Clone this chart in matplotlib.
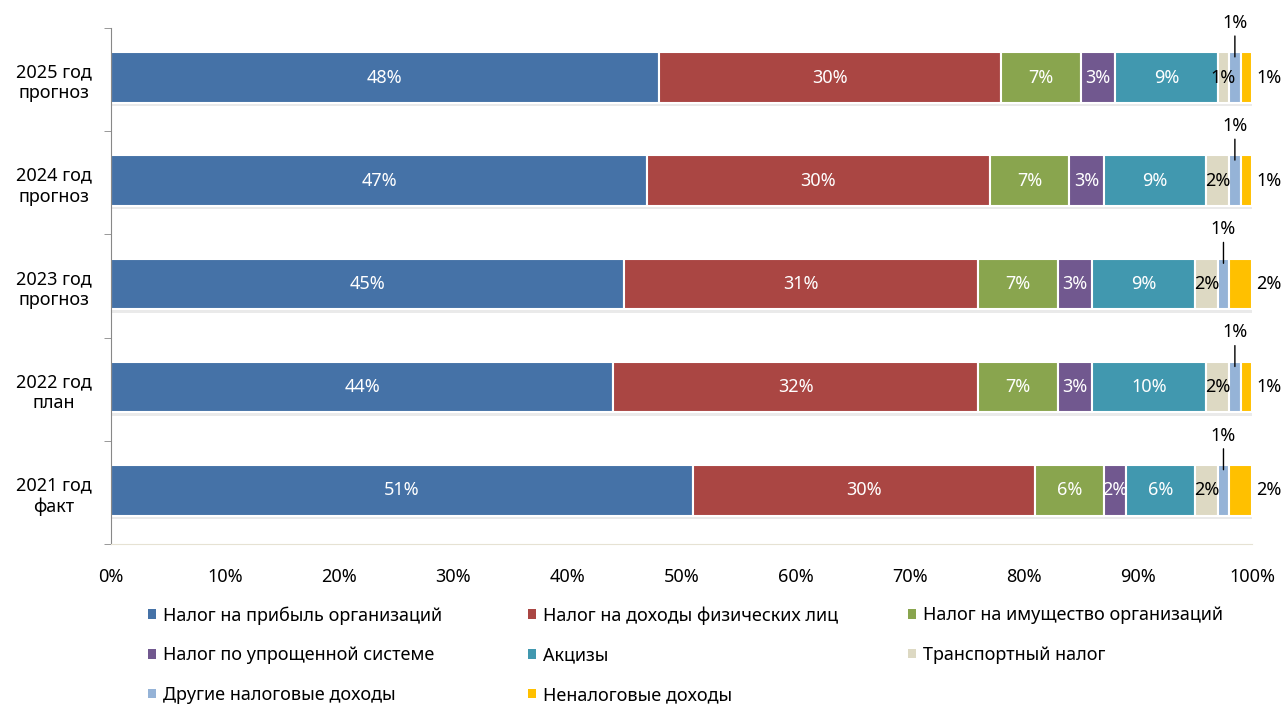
import matplotlib.pyplot as plt
import matplotlib.patheffects as pe
from matplotlib.patches import Patch
import numpy as np

plt.rcParams['font.family'] = ['Noto Sans', 'DejaVu Sans']

# категории снизу вверх
years = ['2021 год\nфакт', '2022 год\nплан', '2023 год\nпрогноз',
         '2024 год\nпрогноз', '2025 год\nпрогноз']

series_names = ['Налог на прибыль организаций', 'Налог на доходы физических лиц',
                'Налог на имущество организаций', 'Налог по упрощенной системе',
                'Акцизы', 'Транспортный налог', 'Другие налоговые доходы',
                'Неналоговые доходы']

profit = [51, 44, 45, 47, 48]
ndfl = [30, 32, 31, 30, 30]
property_tax = [6, 7, 7, 7, 7]
simplified = [2, 3, 3, 3, 3]
excise = [6, 10, 9, 9, 9]
transport = [2, 2, 2, 2, 1]
other_tax = [1, 1, 1, 1, 1]
non_tax = [2, 1, 2, 1, 1]

colors = ['#4572A7', '#AA4643', '#89A54E', '#71588F',
          '#4198AF', '#DDD9C3', '#95B3D7', '#FFC000']
text_colors = ['white', 'white', 'white', 'white', 'white', 'black', 'black', 'black']

data = [profit, ndfl, property_tax, simplified, excise, transport, other_tax, non_tax]

fs = 13

fig = plt.figure(figsize=(12.87, 7.06), dpi=100)
ax = fig.add_axes([111/1287, 1-544/706, (1252-111)/1287, (544-28)/706])

y = np.arange(len(years))
left = np.zeros(len(years))
bar_h = 0.49
for i, vals in enumerate(data):
    vals = np.array(vals, dtype=float)
    bars = ax.barh(y + 0.02, vals, left=left, height=bar_h, color=colors[i],
                   edgecolor='white', linewidth=1.5)
    for b in bars:
        b.set_path_effects([pe.SimplePatchShadow(offset=(1, -2.5), shadow_rgbFace='#999999', alpha=0.2),
                            pe.Normal()])
    for j, v in enumerate(vals):
        xc = left[j] + v / 2
        yc = y[j] + 0.02
        lab = f'{int(v)}%'
        if i == 6:
            ax.annotate(lab, xy=(xc, yc + 0.2), xytext=(xc, yc + 0.53),
                        ha='center', va='center', fontsize=fs, color='black',
                        arrowprops=dict(arrowstyle='-', color='black', lw=1,
                                        shrinkA=1, shrinkB=0))
        elif i == 7:
            ax.text(left[j] + v + 1.5, yc, lab, ha='center', va='center',
                    fontsize=fs, color='black')
        else:
            ax.text(xc, yc, lab, ha='center', va='center',
                    fontsize=fs, color=text_colors[i])
    left += vals

ax.set_xlim(0, 100)
ax.set_ylim(-0.5, len(years) - 0.5)
ax.set_xticks(np.arange(0, 101, 10))
ax.set_xticklabels([f'{t}%' for t in range(0, 101, 10)], fontsize=fs)
ax.set_yticks(y)
ax.set_yticklabels(years, fontsize=fs)
for lab in ax.get_yticklabels():
    lab.set_multialignment('center')
ax.set_yticks(np.arange(-0.5, len(years)), minor=True)
ax.tick_params(axis='y', which='major', length=0, pad=14)
ax.tick_params(axis='y', which='minor', length=5, color='#888888', direction='out')
ax.tick_params(axis='x', length=0, pad=17)

ax.spines['top'].set_visible(False)
ax.spines['right'].set_visible(False)
ax.spines['left'].set_color('#888888')
ax.spines['bottom'].set_color('#E6E2D3')

# легенда: три колонки, заполняются по строкам
col_x = [141, 521, 901]
for c in range(3):
    idx = list(range(c, len(series_names), 3))
    hs = [Patch(facecolor=colors[k], edgecolor='none') for k in idx]
    fig.legend(hs, [series_names[k] for k in idx], loc='upper left',
               bbox_to_anchor=(col_x[c]/1287, 1-599/706), frameon=False,
               fontsize=fs, handlelength=0.45, handleheight=0.45,
               handletextpad=0.35, labelspacing=1.2, borderaxespad=0)

fig.savefig('out.png', dpi=100)
